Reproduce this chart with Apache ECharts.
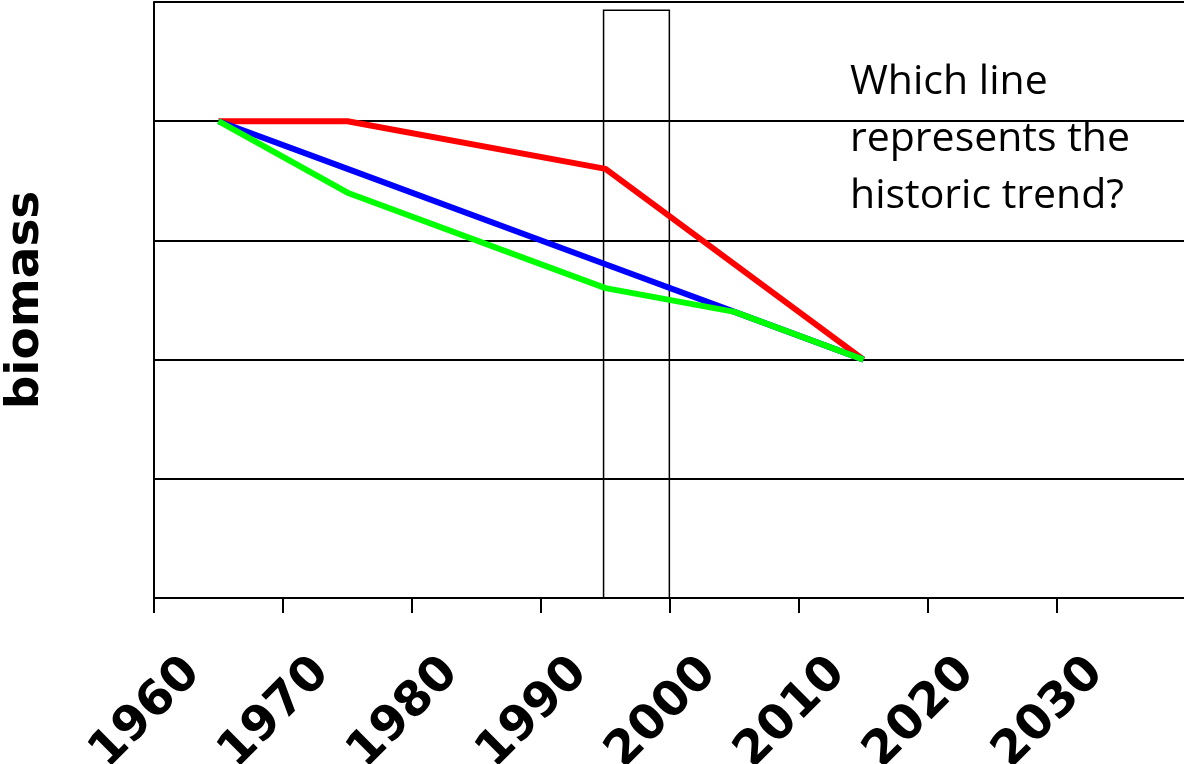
<!DOCTYPE html>
<html><head><meta charset="utf-8">
<script src="https://cdn.jsdelivr.net/npm/echarts@6/dist/echarts.min.js"></script>
<style>html,body{margin:0;padding:0;background:#fff}#c{width:1184px;height:764px}</style>
</head><body><div id="c"></div>
<script>
var xTicks = [1960, 1970, 1980, 1990, 2000, 2010, 2020, 2030];
var redYears = [1965, 1975, 1995, 2015];
var redValues = [4, 4, 3.6, 2];
var blueYears = [1965, 1975, 1995, 2005, 2015];
var blueValues = [4, 3.6, 2.8, 2.4, 2];
var greenYears = [1965, 1975, 1995, 2005, 2015];
var greenValues = [4, 3.4, 2.6, 2.4, 2];
var boxStart = 1994.85, boxEnd = 1999.95, boxTop = 4.93;
var question = ['Which line', 'represents the', 'historic trend?'];

function pairs(xs, ys){ return xs.map(function(x,i){ return [x, ys[i]]; }); }

var chart = echarts.init(document.getElementById('c'));
chart.setOption({
  animation: false,
  grid: {left: 154, top: 2, width: 1032, height: 596, outerBoundsMode: 'none', containLabel: false},
  xAxis: {
    type: 'value', min: 1960, max: 2040, interval: 10,
    axisLine: {show: true, lineStyle: {color: '#000', width: 2}},
    axisTick: {show: true, length: 15, lineStyle: {color: '#000', width: 2}},
    splitLine: {show: false},
    axisLabel: {
      rotate: 45, margin: 107, color: '#000', align: 'center', verticalAlign: 'middle',
      padding: [0, 23, 0, 0],
      fontFamily: 'DejaVu Sans', fontWeight: 'bold', fontSize: 48,
      formatter: function(v){ return xTicks.indexOf(v) >= 0 ? String(v) : ''; }
    }
  },
  yAxis: {
    type: 'value', min: 0, max: 5, interval: 1,
    name: 'biomass', nameLocation: 'middle', nameGap: 105,
    nameTextStyle: {fontFamily: 'DejaVu Sans', fontWeight: 'bold', fontSize: 47, color: '#000'},
    axisLine: {show: true, lineStyle: {color: '#000', width: 2}},
    axisTick: {show: false},
    axisLabel: {show: false},
    splitLine: {show: true, lineStyle: {color: '#000', width: 2}}
  },
  graphic: [{
    type: 'text', left: 850, top: 54,
    style: {text: question.join('\n'), font: '41px "Open Sans"', lineHeight: 57, fill: '#000'}
  }],
  series: [
    {type: 'line', data: pairs(redYears, redValues), showSymbol: false, lineStyle: {color: '#ff0000', width: 6}, z: 3,
     markArea: {silent: true, itemStyle: {color: 'rgba(0,0,0,0)', borderColor: '#000', borderWidth: 1.5},
       data: [[{coord: [boxStart, 0]}, {coord: [boxEnd, boxTop]}]]}},
    {type: 'line', data: pairs(blueYears, blueValues), showSymbol: false, lineStyle: {color: '#0000ff', width: 6}, z: 4},
    {type: 'line', data: pairs(greenYears, greenValues), showSymbol: false, lineStyle: {color: '#00ff00', width: 6}, z: 5}
  ]
});
</script></body></html>
